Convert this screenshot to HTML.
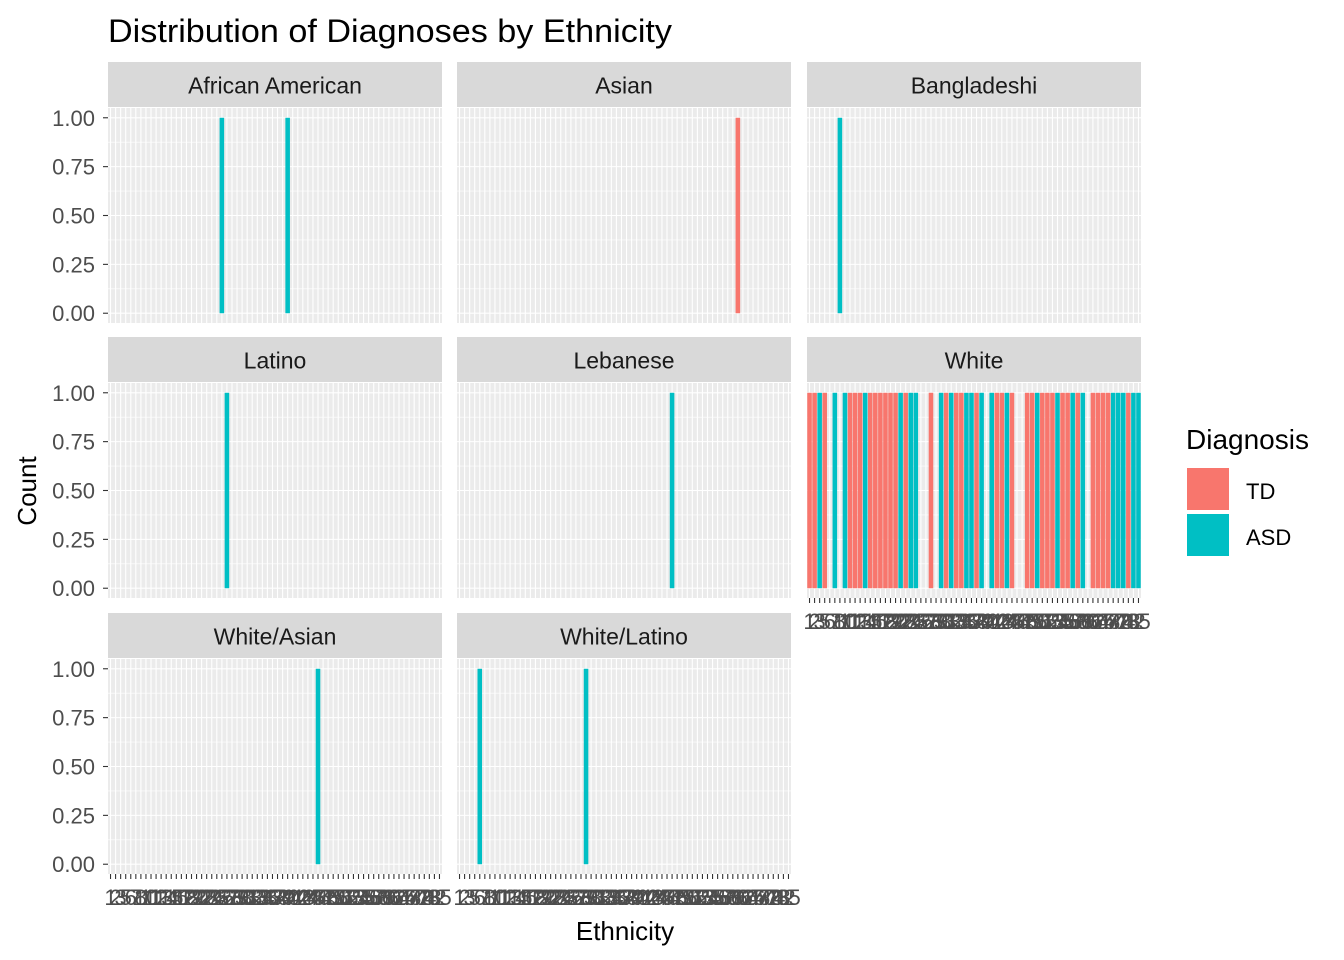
<!DOCTYPE html>
<html><head><meta charset="utf-8"><style>
html,body{margin:0;padding:0;background:#fff}
svg{display:block;font-family:"Liberation Sans",Arial,sans-serif}
</style></head><body>
<svg id="chart" width="1344" height="960" viewBox="0 0 1344 960" xmlns="http://www.w3.org/2000/svg">
<text x="108" y="42" font-size="32" fill="#000" textLength="564" lengthAdjust="spacingAndGlyphs">Distribution of Diagnoses by Ethnicity</text>
<text transform="translate(36,491) rotate(-90)" text-anchor="middle" font-size="26" fill="#000">Count</text>
<text x="625" y="940" text-anchor="middle" font-size="26" fill="#000">Ethnicity</text>
<g id="panels"></g>
<g>
<text x="1186" y="449" font-size="28" fill="#000">Diagnosis</text>
<rect x="1186" y="467" width="44" height="44" fill="#F8766D" stroke="#fff" stroke-width="2"/>
<rect x="1186" y="513" width="44" height="44" fill="#00BFC4" stroke="#fff" stroke-width="2"/>
<text x="1246" y="499" font-size="22" fill="#000">TD</text>
<text x="1246" y="545" font-size="22" fill="#000">ASD</text>
</g>
</svg>
<script>
const categories = [1,2,3,5,6,7,8,10,11,12,13,14,15,16,17,18,19,20,22,23,24,25,26,27,28,29,30,31,32,33,34,36,37,38,39,40,41,42,43,44,45,46,47,48,49,50,51,52,53,54,55,56,57,58,59,60,62,64,66,68,70,72,74,78,82,85];
const ethnicity = ["White","White","White","White","White/Latino","White","Bangladeshi","White","White","White","White","White","White","White","White","White","White","White","White","White","White","White","African American","Latino","White","White/Latino","White","White","White","White","White","White","White","White","White","African American","White","White","White","White","White","White/Asian","Lebanese","White","White","White","White","White","White","White","White","White","White","White","White","Asian","White","White","White","White","White","White","White","White","White","White"];
const diagnosis = ["TD","TD","ASD","TD","ASD","ASD","ASD","ASD","TD","TD","TD","ASD","TD","TD","TD","TD","TD","TD","ASD","TD","ASD","ASD","ASD","ASD","TD","ASD","ASD","TD","ASD","TD","TD","ASD","ASD","TD","ASD","ASD","ASD","TD","TD","ASD","TD","ASD","ASD","TD","TD","ASD","TD","TD","TD","ASD","TD","TD","ASD","TD","ASD","TD","TD","TD","TD","TD","ASD","ASD","ASD","TD","ASD","ASD"];
const counts = categories.map(() => 1);
const facets = ["African American","Asian","Bangladeshi","Latino","Lebanese","White","White/Asian","White/Latino"];
const yTicks = [0,0.25,0.5,0.75,1];
const yTickLabels = ["0.00","0.25","0.50","0.75","1.00"];

const NS="http://www.w3.org/2000/svg";
const root=document.getElementById('panels');
const colX=[108,457,807], rowY=[108,383,659], PW=334, PH=215, stripH=45;
const colors={TD:"#F8766D",ASD:"#00BFC4"};
function mk(tag,attrs,parent){const e=document.createElementNS(NS,tag);for(const k in attrs)e.setAttribute(k,attrs[k]);(parent||root).appendChild(e);return e;}
const n=categories.length;
facets.forEach((f,fi)=>{
  const c=fi%3,r=Math.floor(fi/3);
  const L=colX[c],T=rowY[r];
  const step=PW/n;
  const xc=i=>L+(i+0.5)*step;
  const yv=v=>T+PH-(v+0.05)/1.1*PH;
  const g=mk('g',{});
  
  
  const bg=mk('rect',{x:L,y:T,width:PW,height:PH,fill:'#EBEBEB'},g);
  
  
  for(let k=0;k<yTicks.length-1;k++){const v=(yTicks[k]+yTicks[k+1])/2;mk('line',{x1:L,x2:L+PW,y1:yv(v),y2:yv(v),stroke:'#fff','stroke-width':0.55},g);}
  yTicks.forEach(v=>mk('line',{x1:L,x2:L+PW,y1:yv(v),y2:yv(v),stroke:'#fff','stroke-width':1.1},g));
  for(let i=0;i<n;i++)mk('line',{x1:xc(i),x2:xc(i),y1:T,y2:T+PH,stroke:'#fff','stroke-width':1.1},g);
  for(let i=0;i<n;i++){
    if(ethnicity[i]!==f)continue;
    const bw=step*0.9;
    const b=mk('rect',{x:xc(i)-bw/2,y:yv(counts[i]),width:bw,height:yv(0)-yv(counts[i]),fill:colors[diagnosis[i]]},g);
    
    
  }
  const s=mk('rect',{x:L,y:T-stripH-1,width:PW,height:stripH,fill:'#D9D9D9'},g);
  
  
  const st=mk('text',{x:L+PW/2,y:T-stripH/2+8,'text-anchor':'middle','font-size':23,fill:'#1A1A1A'},g);
  st.textContent=f;
  
  
  if(c===0){
    yTicks.forEach((v,k)=>{
      mk('line',{x1:L-5,x2:L,y1:yv(v),y2:yv(v),stroke:'#333','stroke-width':1.1},g);
      const t=mk('text',{x:L-13,y:yv(v)+8,'text-anchor':'end','font-size':22,fill:'#4D4D4D'},g);
      t.textContent=yTickLabels[k];
      
      
    });
  }
  const bottom = r===2 || (r===1 && c===2);
  if(bottom){
    for(let i=0;i<n;i++){
      mk('line',{x1:xc(i),x2:xc(i),y1:T+PH,y2:T+PH+5,stroke:'#333','stroke-width':1.1},g);
      const t=mk('text',{x:xc(i),y:T+PH+31,'text-anchor':'middle','font-size':22,fill:'#4D4D4D'},g);
      t.textContent=categories[i];
      
      
    }
  }
});
</script>
</body></html>
